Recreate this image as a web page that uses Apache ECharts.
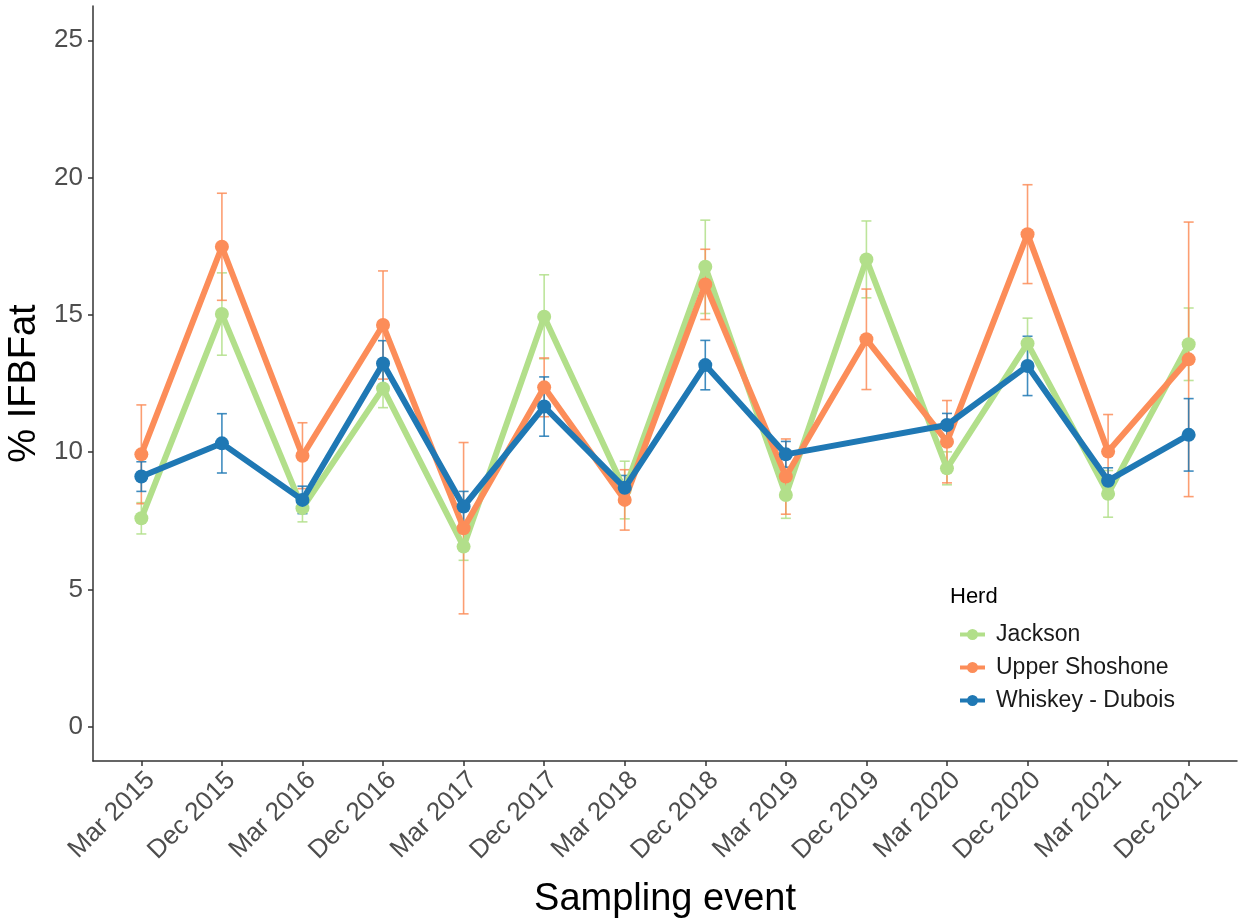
<!DOCTYPE html>
<html>
<head>
<meta charset="utf-8">
<script src="https://cdn.jsdelivr.net/npm/echarts@6/dist/echarts.min.js"></script>
<style>
html,body{margin:0;padding:0;background:#fff;}
#chart{width:1238px;height:923px;}
</style>
</head>
<body>
<div id="chart"></div>
<script>
// ---- data ----
const categories = ['Mar 2015','Dec 2015','Mar 2016','Dec 2016','Mar 2017','Dec 2017','Mar 2018','Dec 2018','Mar 2019','Dec 2019','Mar 2020','Dec 2020','Mar 2021','Dec 2021'];
const herds = ['Jackson', 'Upper Shoshone', 'Whiskey - Dubois'];
const jacksonMean = [7.59, 15.03, 7.96, 12.32, 6.56, 14.93, 8.62, 16.75, 8.44, 17.02, 9.41, 13.96, 8.48, 13.93];
const jacksonErr  = [0.57, 1.50, 0.50, 0.70, 0.50, 1.53, 1.05, 1.70, 0.85, 1.40, 0.60, 0.92, 0.85, 1.32];
const shoshoneMean = [9.92, 17.48, 9.87, 14.63, 7.23, 12.36, 8.26, 16.11, 9.11, 14.11, 10.38, 17.94, 10.02, 13.38];
const shoshoneErr  = [1.80, 1.95, 1.20, 1.97, 3.12, 1.07, 1.10, 1.28, 1.37, 1.83, 1.50, 1.80, 1.35, 5.00];
const duboisMean = [9.11, 10.32, 8.26, 13.23, 8.02, 11.66, 8.70, 13.17, 9.92, null, 10.99, 13.14, 8.96, 10.63];
const duboisErr  = [0.54, 1.08, 0.50, 0.83, 0.55, 1.08, 0.45, 0.90, 0.47, null, 0.42, 1.08, 0.47, 1.32];
const yTicks = [0, 5, 10, 15, 20, 25];

const colors = ['#B2DF8A', '#FC8D59', '#1F78B4'];
const means = [jacksonMean, shoshoneMean, duboisMean];
const errs = [jacksonErr, shoshoneErr, duboisErr];
const FONT = "'Liberation Sans', Arial, sans-serif";
const legendIcon = 'path://M0,3.5L25,3.5L25,7.5L0,7.5Z M12.5,0A5.5,5.5 0 1 1 12.49,0Z';

function pts(arr) {
  const out = [];
  arr.forEach((v, i) => { if (v !== null) out.push([i, v]); });
  return out;
}
function errData(m, e) {
  const out = [];
  m.forEach((v, i) => { if (v !== null) out.push([i, v - e[i], v + e[i]]); });
  return out;
}

const series = [];
herds.forEach((h, k) => {
  series.push({
    type: 'custom',
    name: h + ' err',
    z: 1,
    silent: true,
    data: errData(means[k], errs[k]),
    renderItem: function (params, api) {
      const lo = api.coord([api.value(0), api.value(1)]);
      const hi = api.coord([api.value(0), api.value(2)]);
      const w = 5;
      const style = { stroke: colors[k], lineWidth: 1.6, opacity: 0.85 };
      return {
        type: 'group',
        children: [
          { type: 'line', shape: { x1: lo[0], y1: lo[1], x2: hi[0], y2: hi[1] }, style: style },
          { type: 'line', shape: { x1: lo[0] - w, y1: lo[1], x2: lo[0] + w, y2: lo[1] }, style: style },
          { type: 'line', shape: { x1: hi[0] - w, y1: hi[1], x2: hi[0] + w, y2: hi[1] }, style: style }
        ]
      };
    }
  });
});
herds.forEach((h, k) => {
  series.push({
    type: 'line',
    name: h,
    z: 2 + k,
    data: pts(means[k]),
    symbol: 'circle',
    symbolSize: 14,
    lineStyle: { width: 6, color: colors[k] },
    itemStyle: { color: colors[k] },
    emphasis: { disabled: true }
  });
});

const chart = echarts.init(document.getElementById('chart'), null, { renderer: 'canvas' });
chart.setOption({
  backgroundColor: '#ffffff',
  animation: false,
  textStyle: { fontFamily: FONT },
  title: {
    text: 'Herd',
    left: 945,
    top: 581,
    textStyle: { fontFamily: FONT, fontSize: 22, fontWeight: 'normal', color: '#000' }
  },
  legend: {
    data: herds.map((h, k) => ({ name: h, icon: legendIcon, itemStyle: { color: colors[k] } })),
    orient: 'vertical',
    left: 955,
    top: 618,
    itemWidth: 25,
    itemHeight: 11,
    itemGap: 10,
    textStyle: { fontFamily: FONT, fontSize: 23, color: '#1a1a1a', padding: [0, 0, 0, 6] }
  },
  grid: { left: 93, right: 1, top: 6, bottom: 162, containLabel: false, outerBoundsMode: 'none' },
  xAxis: {
    type: 'value',
    min: -0.6,
    max: 13.6,
    name: 'Sampling event',
    nameLocation: 'middle',
    nameGap: 120,
    nameTextStyle: { fontFamily: FONT, fontSize: 38, color: '#000' },
    splitLine: { show: false },
    axisLine: { show: true, onZero: false, lineStyle: { color: '#333', width: 1.5 } },
    axisTick: { show: true, length: 5, lineStyle: { color: '#333', width: 1.5 }, customValues: categories.map((c, i) => i) },
    axisLabel: {
      rotate: 45,
      fontFamily: FONT,
      fontSize: 26,
      color: '#4D4D4D',
      margin: 6,
      verticalAlign: 'top',
      customValues: categories.map((c, i) => i),
      formatter: function (v) { return categories[Math.round(v)]; }
    }
  },
  yAxis: {
    type: 'value',
    min: -1.25,
    max: 26.25,
    name: '% IFBFat',
    nameLocation: 'middle',
    nameGap: 42,
    nameTextStyle: { fontFamily: FONT, fontSize: 38, color: '#000' },
    splitLine: { show: false },
    axisLine: { show: true, onZero: false, lineStyle: { color: '#333', width: 1.5 } },
    axisTick: { show: true, length: 5, lineStyle: { color: '#333', width: 1.5 }, customValues: yTicks },
    axisLabel: {
      fontFamily: FONT,
      fontSize: 26,
      color: '#4D4D4D',
      margin: 10,
      customValues: yTicks,
      formatter: function (v) { return String(v); }
    }
  },
  series: series
});
</script>
</body>
</html>
